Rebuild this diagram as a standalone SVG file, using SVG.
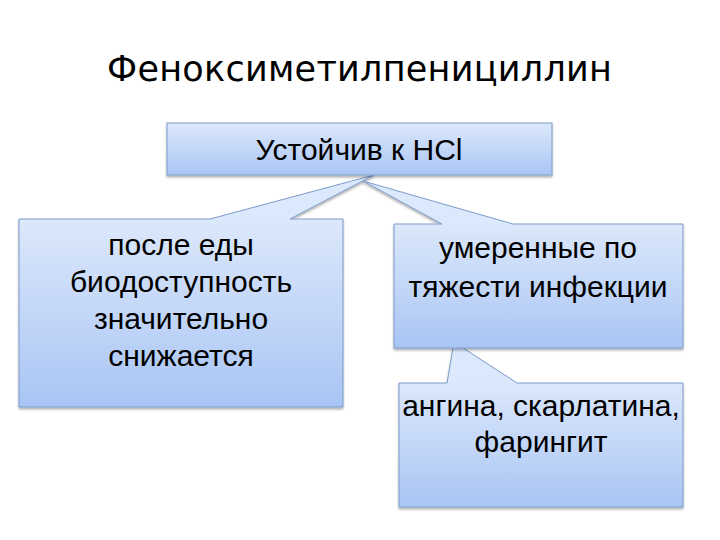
<svg xmlns="http://www.w3.org/2000/svg" width="720" height="540" viewBox="0 0 720 540">
<defs>
<style>
.box{stroke:#7d9bcb;stroke-width:1;filter:url(#sh)}
.t{font-family:"Liberation Sans",Arial,sans-serif;font-size:30px;fill:#000;text-anchor:middle}
.title{font-family:"DejaVu Sans",sans-serif;font-size:35px;fill:#000}
</style>
<filter id="sh" x="-5%" y="-5%" width="110%" height="115%">
<feDropShadow dx="0" dy="2" stdDeviation="1.2" flood-color="#000" flood-opacity="0.3"/>
</filter>
<linearGradient id="g0" gradientUnits="userSpaceOnUse" x1="0" y1="123" x2="0" y2="175"><stop offset="0" stop-color="#dce8fb"/><stop offset="1" stop-color="#a9c5f4"/></linearGradient>
<linearGradient id="g1" gradientUnits="userSpaceOnUse" x1="0" y1="219" x2="0" y2="407"><stop offset="0" stop-color="#dce8fb"/><stop offset="1" stop-color="#a9c5f4"/></linearGradient>
<linearGradient id="g2" gradientUnits="userSpaceOnUse" x1="0" y1="224" x2="0" y2="348"><stop offset="0" stop-color="#dce8fb"/><stop offset="1" stop-color="#a9c5f4"/></linearGradient>
<linearGradient id="g3" gradientUnits="userSpaceOnUse" x1="0" y1="383" x2="0" y2="507"><stop offset="0" stop-color="#dce8fb"/><stop offset="1" stop-color="#a9c5f4"/></linearGradient>
</defs>
<rect width="720" height="540" fill="#fff"/>
<text class="title" x="107" y="81" textLength="505" lengthAdjust="spacing">Феноксиметилпенициллин</text>
<g id="connectors"></g>
<g id="n-left">
<path class="box" fill="url(#g1)" d="M19,219 H210 L374,175 L290,219 H343 V407 H19 Z"/>
<text class="t" x="181" y="255">после еды</text>
<text class="t" x="181" y="292">биодоступность</text>
<text class="t" x="181" y="329">значительно</text>
<text class="t" x="181" y="366">снижается</text>
</g>
<g id="n-bottom">
<path class="box" fill="url(#g3)" d="M399,383 H447 L454,342 L517,383 H683 V507 H399 Z"/>
<text class="t" x="541" y="416" font-size="31">ангина, скарлатина,</text>
<text class="t" x="541" y="452" font-size="31">фарингит</text>
</g>
<g id="n-right">
<path class="box" fill="url(#g2)" d="M394,224 H442 L363,181 L513,224 H683 V348 H394 Z"/>
<text class="t" x="538" y="258">умеренные по</text>
<text class="t" x="538" y="297">тяжести инфекции</text>
</g>
<g id="n-top">
<rect class="box" fill="url(#g0)" x="167" y="123" width="385" height="52"/>
<text class="t" x="359" y="160" font-size="28">Устойчив к HCl</text>
</g>
</svg>
